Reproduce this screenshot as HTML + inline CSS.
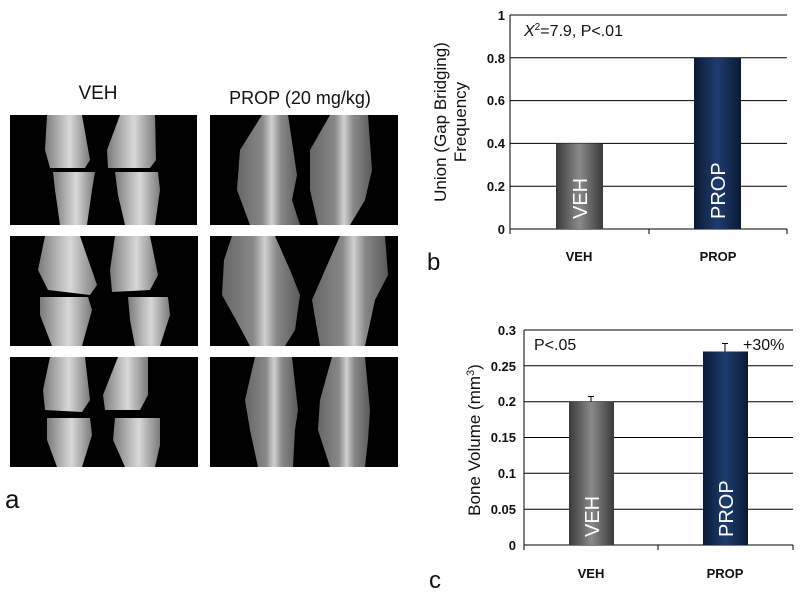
<!DOCTYPE html>
<html><head><meta charset="utf-8"><style>
body{margin:0;background:#fff;}
svg{display:block;font-family:"Liberation Sans",sans-serif;}
</style></head><body>
<svg width="800" height="594" viewBox="0 0 800 594" xmlns="http://www.w3.org/2000/svg">
<defs>
<linearGradient id="gv" x1="0" x2="1"><stop offset="0" stop-color="#3a3a3a"/><stop offset="0.5" stop-color="#8a8a8a"/><stop offset="1" stop-color="#3a3a3a"/></linearGradient>
<linearGradient id="gp" x1="0" x2="1"><stop offset="0" stop-color="#0a1a35"/><stop offset="0.5" stop-color="#1e3c6e"/><stop offset="1" stop-color="#0a1a35"/></linearGradient>
<linearGradient id="bone" x1="0" x2="1"><stop offset="0" stop-color="#7a7a7a"/><stop offset="0.35" stop-color="#b8b8b8"/><stop offset="0.55" stop-color="#d8d8d8"/><stop offset="1" stop-color="#7a7a7a"/></linearGradient>
<linearGradient id="bone2" x1="0" x2="1"><stop offset="0" stop-color="#666"/><stop offset="0.4" stop-color="#888"/><stop offset="0.55" stop-color="#d0d0d0"/><stop offset="0.7" stop-color="#888"/><stop offset="1" stop-color="#5a5a5a"/></linearGradient>
</defs>

<text x="98" y="99" font-size="19" text-anchor="middle" fill="#111">VEH</text>
<text x="300" y="104" font-size="18" text-anchor="middle" fill="#111">PROP (20 mg/kg)</text>
<text x="5" y="508" font-size="26" fill="#111">a</text>

<g>
<rect x="10" y="115" width="187" height="110" fill="#000"/>
<polygon points="47,115 82,115 90,160 85,168 50,168 45,150" fill="url(#bone)"/>
<polygon points="120,115 155,115 156,160 150,168 108,168 107,150" fill="url(#bone)"/>
<polygon points="53,172 95,172 92,190 87,225 60,225 55,190" fill="url(#bone)"/>
<polygon points="115,172 158,172 160,190 155,225 125,225 118,195" fill="url(#bone)"/>

<rect x="10" y="236" width="188" height="110" fill="#000"/>
<polygon points="45,236 80,236 97,285 90,295 48,290 38,270" fill="url(#bone)"/>
<polygon points="115,236 150,236 158,275 150,290 112,292 110,270" fill="url(#bone)"/>
<polygon points="40,297 88,297 92,310 82,346 52,346 40,315" fill="url(#bone)"/>
<polygon points="128,297 168,297 170,315 160,346 135,346 130,320" fill="url(#bone)"/>

<rect x="10" y="357" width="188" height="110" fill="#000"/>
<polygon points="50,357 85,357 90,400 82,412 45,410 43,390" fill="url(#bone)"/>
<polygon points="118,357 148,357 148,395 140,410 105,410 103,395" fill="url(#bone)"/>
<polygon points="47,418 90,418 92,435 82,467 57,467 47,440" fill="url(#bone)"/>
<polygon points="115,418 160,418 160,445 155,467 125,467 113,440" fill="url(#bone)"/>
</g>

<g>
<rect x="210" y="115" width="188" height="110" fill="#000"/>
<polygon points="262,115 288,115 297,175 292,200 300,225 250,225 237,190 240,150" fill="url(#bone2)"/>
<polygon points="330,115 368,115 372,170 365,200 350,225 318,225 310,190 310,150" fill="url(#bone2)"/>

<rect x="210" y="236" width="188" height="110" fill="#000"/>
<polygon points="232,236 275,236 290,270 300,295 295,330 285,346 250,346 236,320 222,295 224,260" fill="url(#bone2)"/>
<polygon points="340,236 385,236 388,275 375,300 365,346 320,346 312,300 325,270" fill="url(#bone2)"/>

<rect x="210" y="357" width="188" height="110" fill="#000"/>
<polygon points="255,357 292,357 298,410 295,430 293,467 258,467 250,430 245,400" fill="url(#bone2)"/>
<polygon points="332,357 365,357 370,410 368,440 365,467 330,467 318,430 320,400" fill="url(#bone2)"/>
</g>

<!-- chart b -->
<g stroke="#000" stroke-width="1">
<line x1="510" y1="15" x2="787" y2="15"/>
<line x1="510" y1="57.8" x2="787" y2="57.8"/>
<line x1="510" y1="100.6" x2="787" y2="100.6"/>
<line x1="510" y1="143.4" x2="787" y2="143.4"/>
<line x1="510" y1="186.2" x2="787" y2="186.2"/>
<line x1="510" y1="229" x2="787" y2="229"/>
<line x1="510" y1="15" x2="510" y2="229"/>
<line x1="649" y1="229" x2="649" y2="234"/>
<line x1="787" y1="229" x2="787" y2="234"/>
<line x1="510" y1="229" x2="510" y2="234"/>
</g>
<rect x="556" y="143.4" width="47" height="85.6" fill="url(#gv)"/>
<rect x="694" y="57.8" width="47" height="171.2" fill="url(#gp)"/>
<g font-size="13" font-weight="bold" text-anchor="end" fill="#111">
<text x="505" y="20">1</text><text x="505" y="63">0.8</text><text x="505" y="105">0.6</text>
<text x="505" y="148">0.4</text><text x="505" y="191">0.2</text><text x="505" y="234">0</text>
</g>
<g font-size="13" font-weight="bold" text-anchor="middle" fill="#111">
<text x="579" y="261">VEH</text><text x="718" y="261">PROP</text>
</g>
<text x="524" y="36" font-size="16" fill="#111"><tspan font-style="italic">X</tspan><tspan font-size="10" dy="-6">2</tspan><tspan dy="6">=7.9, P&lt;.01</tspan></text>
<text transform="translate(446,122) rotate(-90)" font-size="17" text-anchor="middle" fill="#111">Union (Gap Bridging)</text>
<text transform="translate(466,122) rotate(-90)" font-size="17" text-anchor="middle" fill="#111">Frequency</text>
<text transform="translate(587,219) rotate(-90)" font-size="20" fill="#fff">VEH</text>
<text transform="translate(725,219) rotate(-90)" font-size="20" fill="#fff">PROP</text>
<text x="427" y="270" font-size="24" fill="#111">b</text>

<!-- chart c -->
<g stroke="#000" stroke-width="1">
<line x1="524" y1="330" x2="793" y2="330"/>
<line x1="524" y1="365.8" x2="793" y2="365.8"/>
<line x1="524" y1="401.7" x2="793" y2="401.7"/>
<line x1="524" y1="437.5" x2="793" y2="437.5"/>
<line x1="524" y1="473.3" x2="793" y2="473.3"/>
<line x1="524" y1="509.2" x2="793" y2="509.2"/>
<line x1="524" y1="545" x2="793" y2="545"/>
<line x1="524" y1="330" x2="524" y2="550"/>
<line x1="658" y1="545" x2="658" y2="550"/>
<line x1="793" y1="545" x2="793" y2="550"/>
</g>
<rect x="569" y="401.7" width="45" height="143.3" fill="url(#gv)"/>
<rect x="703" y="351.5" width="45" height="193.5" fill="url(#gp)"/>
<g stroke="#000" stroke-width="1">
<line x1="591" y1="401.7" x2="591" y2="396.5"/><line x1="588" y1="396.5" x2="594" y2="396.5"/>
<line x1="725" y1="351.5" x2="725" y2="343.5"/><line x1="722" y1="343.5" x2="728" y2="343.5"/>
</g>
<g font-size="13" font-weight="bold" text-anchor="end" fill="#111">
<text x="516" y="335">0.3</text><text x="516" y="371">0.25</text><text x="516" y="406">0.2</text>
<text x="516" y="442">0.15</text><text x="516" y="478">0.1</text><text x="516" y="514">0.05</text><text x="516" y="550">0</text>
</g>
<g font-size="13" font-weight="bold" text-anchor="middle" fill="#111">
<text x="591" y="578">VEH</text><text x="725" y="578">PROP</text>
</g>
<text x="534" y="350" font-size="16" fill="#111">P&lt;.05</text>
<text x="743" y="350" font-size="16" fill="#111">+30%</text>
<text transform="translate(480,440) rotate(-90)" font-size="17" text-anchor="middle" fill="#111">Bone Volume (mm<tspan font-size="11" dy="-6">3</tspan><tspan dy="6">)</tspan></text>
<text transform="translate(599,537) rotate(-90)" font-size="20" fill="#fff">VEH</text>
<text transform="translate(733,537) rotate(-90)" font-size="20" fill="#fff">PROP</text>
<text x="429" y="588" font-size="24" fill="#111">c</text>
</svg>
</body></html>
